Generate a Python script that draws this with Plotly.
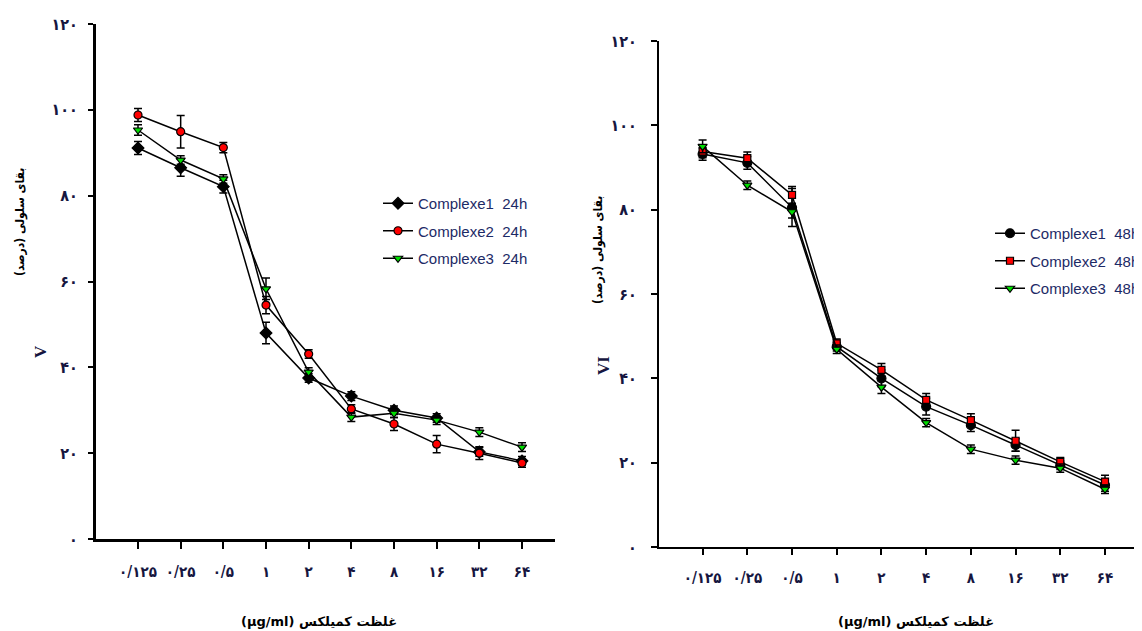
import plotly.graph_objects as go

# ---------------- data ----------------
conc_labels = ["۰/۱۲۵", "۰/۲۵", "۰/۵", "۱", "۲", "۴", "۸", "۱۶", "۳۲", "۶۴"]
y_tick_vals = [0, 20, 40, 60, 80, 100, 120]
y_tick_text = ["۰", "۲۰", "۴۰", "۶۰", "۸۰", "۱۰۰", "۱۲۰"]

series_names_24 = ["Complexe1  24h", "Complexe2  24h", "Complexe3  24h"]
series_names_48 = ["Complexe1  48h", "Complexe2  48h", "Complexe3  48h"]

c1_24 = [91.1, 86.5, 82.1, 48.0, 37.5, 33.3, 30.0, 28.2, 20.3, 18.2]
c2_24 = [98.8, 94.9, 91.2, 54.5, 43.1, 30.3, 26.8, 22.1, 20.0, 17.7]
c3_24 = [95.3, 88.3, 83.9, 58.3, 38.9, 28.4, 29.3, 27.7, 24.9, 21.4]
c1_24_err = [1.5, 2.0, 1.5, 2.5, 1.0, 1.0, 1.0, 1.0, 1.0, 1.0]
c2_24_err = [1.5, 3.8, 1.2, 2.0, 1.0, 1.0, 1.5, 2.0, 1.5, 1.0]
c3_24_err = [1.2, 1.0, 1.0, 2.5, 1.0, 1.0, 1.0, 1.0, 1.0, 1.0]

c1_48 = [93.2, 91.1, 80.5, 47.5, 40.0, 33.3, 28.9, 24.2, 19.4, 14.7]
c2_48 = [93.8, 92.2, 83.5, 48.3, 42.0, 34.9, 30.1, 25.2, 20.2, 15.5]
c3_48 = [95.0, 85.8, 79.5, 46.9, 37.9, 29.5, 23.2, 20.6, 18.7, 13.7]
c1_48_err = [1.5, 1.5, 4.5, 1.0, 2.0, 2.0, 1.5, 1.5, 1.0, 1.5]
c2_48_err = [1.5, 1.5, 2.0, 1.0, 1.5, 1.5, 1.5, 2.5, 1.0, 1.5]
c3_48_err = [1.5, 1.0, 1.5, 1.0, 1.5, 1.0, 1.0, 1.0, 1.0, 1.0]

y_title = "\u202bبقای سلولی (درصد)\u202c"
x_title = "\u202bغلظت کمیلکس (µg/ml)\u202c"

# ---------------- styles ----------------
W, H = 1142, 631
OFF = 8  # page body margin
FW, FH = W - OFF, H - OFF
NAVY = "#16163f"
PERSIAN = "DejaVu Sans Condensed, DejaVu Sans"
XTICK_FONT = dict(family=PERSIAN, size=15, color=NAVY, weight="bold")
YTICK_FONT = dict(family=PERSIAN, size=16, color=NAVY, weight="bold")
LEG_FONT = dict(family="Liberation Sans Narrow, Liberation Sans, Arial", size=15, color="#1d2a66")

styles = [
    dict(color="black", symbol="diamond", size=9),
    dict(color="#ff0000", symbol="circle", size=8),
    dict(color="#00dd00", symbol="triangle-down", size=8),
]
styles48 = [
    dict(color="black", symbol="circle", size=9),
    dict(color="#ff0000", symbol="square", size=7),
    dict(color="#00dd00", symbol="triangle-down", size=8),
]

fig = go.Figure()

def add_series(vals, errs, name, st, xa, ya, legend, group):
    fig.add_trace(go.Scatter(
        x=conc_labels, y=vals, name=name, mode="lines+markers",
        xaxis=xa, yaxis=ya, legend=legend, legendgroup=group,
        line=dict(color="black", width=1.5),
        marker=dict(color=st["color"], symbol=st["symbol"], size=st["size"],
                    line=dict(color="black", width=1.2)),
        error_y=dict(type="data", array=errs, visible=True, color="black",
                     thickness=1.5, width=4),
    ))

for vals, errs, name, st, g in zip([c1_24, c2_24, c3_24], [c1_24_err, c2_24_err, c3_24_err],
                                   series_names_24, styles, ["a", "b", "c"]):
    add_series(vals, errs, name, st, "x", "y", "legend", g)
for vals, errs, name, st, g in zip([c1_48, c2_48, c3_48], [c1_48_err, c2_48_err, c3_48_err],
                                   series_names_48, styles48, ["d", "e", "f"]):
    add_series(vals, errs, name, st, "x2", "y2", "legend2", g)

def px_x(p):
    return (p - OFF) / FW

def px_y(p):
    return 1 - (p - OFF) / FH

# left panel geometry (page pixels)
L_y0, L_y120 = 539, 24
L_xa, L_xb = 96, 555
L_first, L_last = 138, 522
L_step = (L_last - L_first) / 9
# right panel geometry
R_y0, R_y120 = 547, 41
R_xa, R_xb = 659, 1142
R_first, R_last = 702.6, 1105
R_step = (R_last - R_first) / 9

common_x = dict(type="category", showgrid=False, zeroline=False, showline=True,
                linecolor="black", ticks="outside", tickcolor="black", tickangle=0,
                tickfont=XTICK_FONT, ticklabelstandoff=10, fixedrange=True)
common_y = dict(range=[0, 120], tickvals=y_tick_vals, ticktext=y_tick_text,
                showgrid=False, zeroline=False, showline=True, linecolor="black",
                ticks="outside", tickcolor="black", tickfont=YTICK_FONT)

fig.update_layout(
    width=FW, height=FH,
    margin=dict(l=0, r=0, t=0, b=0, autoexpand=False),
    paper_bgcolor="white", plot_bgcolor="white",
    xaxis=dict(common_x, domain=[px_x(L_xa), px_x(L_xb)],
               range=[(L_xa - L_first) / L_step, (L_xb - L_first) / L_step],
               anchor="y", linewidth=3, ticklen=7, tickwidth=2),
    yaxis=dict(common_y, domain=[px_y(L_y0), px_y(L_y120)], anchor="x",
               linewidth=3, ticklen=5, tickwidth=2, ticklabelstandoff=7),
    xaxis2=dict(common_x, domain=[px_x(R_xa), 1.0],
                range=[(R_xa - R_first) / R_step, (R_xb - R_first) / R_step],
                anchor="y2", linewidth=2, ticklen=6, tickwidth=2),
    yaxis2=dict(common_y, domain=[px_y(R_y0), px_y(R_y120)], anchor="x2",
                linewidth=2, ticklen=6, tickwidth=1.5, ticklabelstandoff=11),
    legend=dict(x=px_x(378), y=px_y(187), xanchor="left", yanchor="top",
                font=LEG_FONT, bgcolor="rgba(0,0,0,0)", traceorder="grouped",
                tracegroupgap=5, itemclick=False),
    legend2=dict(x=px_x(990), y=px_y(217), xanchor="left", yanchor="top",
                 font=LEG_FONT, bgcolor="rgba(0,0,0,0)", traceorder="grouped",
                 tracegroupgap=5, itemclick=False),
    showlegend=True,
)

ann_font = dict(family=PERSIAN, size=12, color="black", weight="bold")
xt_font = dict(family="DejaVu Sans", size=13, color="black", weight="bold")
annotations = [
    dict(text=y_title, x=px_x(20), y=px_y(222), textangle=-90, font=ann_font),
    dict(text=y_title, x=px_x(598), y=px_y(250), textangle=-90, font=ann_font),
    dict(text=x_title, x=px_x(319), y=px_y(621), font=xt_font),
    dict(text=x_title, x=px_x(916), y=px_y(621), font=xt_font),
    dict(text="V", x=px_x(40), y=px_y(352), textangle=-90,
         font=dict(family="Liberation Serif", size=17, color=NAVY, weight="bold")),
    dict(text="VI", x=px_x(603), y=px_y(366), textangle=-90,
         font=dict(family="Liberation Serif", size=17, color=NAVY, weight="bold")),
]
for a in annotations:
    a.update(xref="paper", yref="paper", showarrow=False, xanchor="center", yanchor="middle")
fig.update_layout(annotations=annotations)

fig.write_html("out.html")
